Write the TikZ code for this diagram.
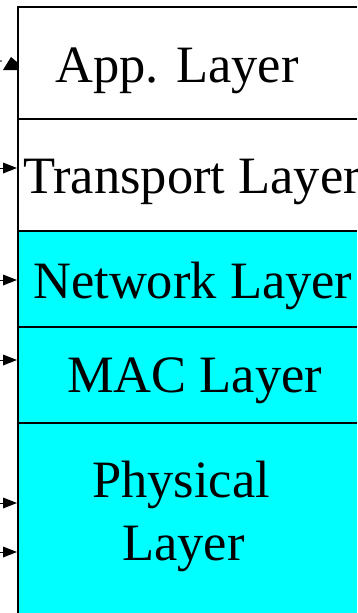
\documentclass[tikz,border=0pt]{standalone}
\usepackage{fontspec}
\setmainfont{Liberation Serif}
\usetikzlibrary{arrows.meta}
\definecolor{layercyan}{RGB}{0,255,255}
\begin{document}
\begin{tikzpicture}[x=1pt,y=-1pt,
  lbl/.style={anchor=base west,inner sep=0pt,font=\fontsize{52.5}{63}\selectfont},
  edge/.style={line width=1.6pt,black},
  tri/.style={fill=black}]
\useasboundingbox (0,0) rectangle (357,613);
% cyan region
\fill[layercyan] (18,231) rectangle (357,613);
% layer separators
\draw[edge] (18,7) -- (357,7);
\draw[edge] (18,119) -- (357,119);
\draw[edge] (18,231) -- (357,231);
\draw[edge] (18,327) -- (357,327);
\draw[edge] (18,423) -- (357,423);
\draw[edge] (18,6) -- (18,613);
% labels
\node[lbl] (app) at (55,82) {App. Layer};
\node[lbl] (tra) at (23,193) {Transport Layer};
\node[lbl] (net) at (33,298) {Network Layer};
\node[lbl] (mac) at (67,392) {MAC Layer};
\node[lbl] (phy1) at (92,497) {Physical};
\node[lbl] (phy2) at (122,560) {Layer};
% arrowheads (cut-off connectors)
\fill[tri] (3,70) -- (11,57) -- (17,62) -- (17,70) -- cycle;
\fill (1,61) circle (0.8);
\foreach \y in {168,280,360,503,552}{
  \fill[tri] (17,\y) -- (3,\y-5.5) -- (3,\y+5.5) -- cycle;
  \draw[line width=0.8pt] (0,\y) -- (4,\y);
}
\end{tikzpicture}
\end{document}
